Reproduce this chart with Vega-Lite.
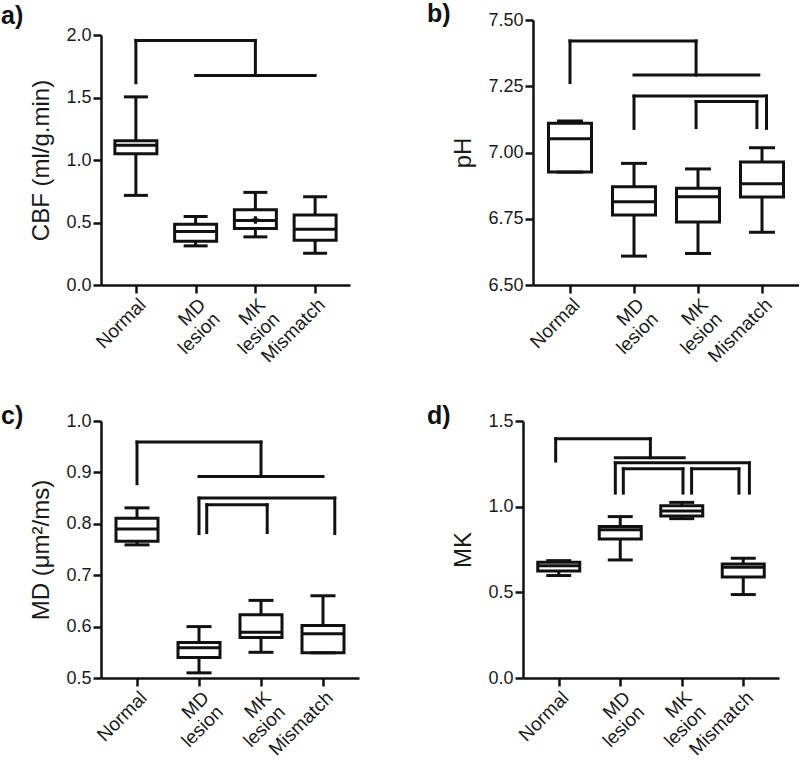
{
  "$schema": "https://vega.github.io/schema/vega-lite/v6.json",
  "padding": {"left": 0, "top": 2, "right": 0, "bottom": 0},
  "background": "white",
  "config": {
    "view": {"stroke": null},
    "axis": {
      "domainColor": "#111", "domainWidth": 2.5, "tickColor": "#111", "tickWidth": 2.5, "tickSize": 8,
      "labelFont": "Liberation Sans", "labelFontSize": 18, "labelColor": "#1a1a1a",
      "titleFont": "Liberation Sans", "titleFontSize": 24, "titleFontWeight": "normal", "titleColor": "#1a1a1a",
      "grid": false, "labelPadding": 2, "titlePadding": 12
    },
    "axisX": {"labelFontSize": 19},
    "tick": {"opacity": 1},
    "title": {"font": "Liberation Sans", "fontSize": 25, "fontWeight": "bold", "anchor": "start", "frame": "bounds", "color": "#111"}
  },
  "spacing": 38,
  "vconcat": [
    {
      "spacing": 76,
      "hconcat": [
        {
          "width": 249, "height": 265,
          "title": {"text": "a)", "offset": -9, "dx": -29},
          "layer": [
            {
              "data": {"values": [
                {"group": "Normal", "g": 1, "lo": 0.717, "q1": 1.05, "med": 1.118, "q3": 1.155, "hi": 1.505},
                {"group": "MD lesion", "g": 2, "lo": 0.313, "q1": 0.35, "med": 0.428, "q3": 0.487, "hi": 0.548},
                {"group": "MK lesion", "g": 3, "lo": 0.385, "q1": 0.452, "med": 0.516, "q3": 0.602, "hi": 0.741, "mean": 0.52},
                {"group": "Mismatch", "g": 4, "lo": 0.254, "q1": 0.358, "med": 0.447, "q3": 0.561, "hi": 0.706}
              ]},
              "encoding": {
                "x": {"field": "g", "type": "quantitative", "title": null, "scale": {"domain": [0.5, 4.5], "nice": false, "zero": false},
                  "axis": {"values": [1, 2, 3, 4], "labelAngle": -45, "labelAlign": "right", "labelBaseline": "top", "labelLineHeight": 20, "labelOverlap": false,
                    "labelExpr": "datum.value == 1 ? 'Normal' : datum.value == 2 ? ['MD', 'lesion'] : datum.value == 3 ? ['MK', 'lesion'] : 'Mismatch'"}}
              },
              "layer": [
                {"mark": {"type": "rule", "strokeWidth": 3, "color": "#111"},
                 "encoding": {"y": {"field": "lo", "type": "quantitative", "title": "CBF (ml/g.min)", "scale": {"domain": [0, 2], "range": [265, 15], "nice": false, "zero": false},
                   "axis": {"values": [0, 0.5, 1, 1.5, 2], "format": ".1f"}}, "y2": {"field": "hi"}}},
                {"mark": {"type": "bar", "size": 42, "fill": "white", "stroke": "#111", "strokeWidth": 3},
                 "encoding": {"y": {"field": "q1", "type": "quantitative", "title": "CBF (ml/g.min)"}, "y2": {"field": "q3"}}},
                {"mark": {"type": "tick", "orient": "horizontal", "size": 42, "thickness": 3, "color": "#111"},
                 "encoding": {"y": {"field": "med", "type": "quantitative", "title": "CBF (ml/g.min)"}}},
                {"mark": {"type": "tick", "orient": "horizontal", "size": 24, "thickness": 3, "color": "#111"},
                 "encoding": {"y": {"field": "lo", "type": "quantitative", "title": "CBF (ml/g.min)"}}},
                {"mark": {"type": "tick", "orient": "horizontal", "size": 24, "thickness": 3, "color": "#111"},
                 "encoding": {"y": {"field": "hi", "type": "quantitative", "title": "CBF (ml/g.min)"}}},
                {"mark": {"type": "point", "shape": "cross", "size": 60, "filled": true, "color": "#111", "opacity": 1},
                 "encoding": {"y": {"field": "mean", "type": "quantitative", "title": "CBF (ml/g.min)"}}}
              ]
            },
            {
              "data": {"values": [
                {"x1": 1, "x2": 1, "y1": 1.618, "y2": 1.957},
                {"x1": 1, "x2": 3, "y1": 1.957, "y2": 1.957},
                {"x1": 3, "x2": 3, "y1": 1.957, "y2": 1.676},
                {"x1": 2, "x2": 4, "y1": 1.676, "y2": 1.676}
              ]},
              "mark": {"type": "rule", "strokeWidth": 3, "color": "#111", "strokeCap": "square"},
              "encoding": {
                "x": {"field": "x1", "type": "quantitative", "title": null}, "x2": {"field": "x2"},
                "y": {"field": "y1", "type": "quantitative", "title": "CBF (ml/g.min)"}, "y2": {"field": "y2"}
              }
            }
          ]
        },
        {
          "width": 266, "height": 265,
          "title": {"text": "b)", "offset": -16, "dx": -25},
          "layer": [
            {
              "data": {"values": [
                {"group": "Normal", "g": 1, "lo": 6.926, "q1": 6.926, "med": 7.052, "q3": 7.11, "hi": 7.119},
                {"group": "MD lesion", "g": 2, "lo": 6.609, "q1": 6.764, "med": 6.814, "q3": 6.871, "hi": 6.959},
                {"group": "MK lesion", "g": 3, "lo": 6.619, "q1": 6.738, "med": 6.833, "q3": 6.865, "hi": 6.938},
                {"group": "Mismatch", "g": 4, "lo": 6.699, "q1": 6.832, "med": 6.882, "q3": 6.964, "hi": 7.018}
              ]},
              "encoding": {
                "x": {"field": "g", "type": "quantitative", "title": null, "scale": {"domain": [0.5, 4.5], "nice": false, "zero": false},
                  "axis": {"values": [1, 2, 3, 4], "labelAngle": -45, "labelAlign": "right", "labelBaseline": "top", "labelLineHeight": 20, "labelOverlap": false,
                    "labelExpr": "datum.value == 1 ? 'Normal' : datum.value == 2 ? ['MD', 'lesion'] : datum.value == 3 ? ['MK', 'lesion'] : 'Mismatch'"}}
              },
              "layer": [
                {"mark": {"type": "rule", "strokeWidth": 3, "color": "#111"},
                 "encoding": {"y": {"field": "lo", "type": "quantitative", "title": "pH", "scale": {"domain": [6.5, 7.5], "nice": false, "zero": false},
                   "axis": {"values": [6.5, 6.75, 7, 7.25, 7.5], "format": ".2f"}}, "y2": {"field": "hi"}}},
                {"mark": {"type": "bar", "size": 43, "fill": "white", "stroke": "#111", "strokeWidth": 3},
                 "encoding": {"y": {"field": "q1", "type": "quantitative", "title": "pH"}, "y2": {"field": "q3"}}},
                {"mark": {"type": "tick", "orient": "horizontal", "size": 43, "thickness": 3, "color": "#111"},
                 "encoding": {"y": {"field": "med", "type": "quantitative", "title": "pH"}}},
                {"mark": {"type": "tick", "orient": "horizontal", "size": 26, "thickness": 3, "color": "#111"},
                 "encoding": {"y": {"field": "lo", "type": "quantitative", "title": "pH"}}},
                {"mark": {"type": "tick", "orient": "horizontal", "size": 26, "thickness": 3, "color": "#111"},
                 "encoding": {"y": {"field": "hi", "type": "quantitative", "title": "pH"}}}
              ]
            },
            {
              "data": {"values": [
                {"x1": 1, "x2": 1, "y1": 7.264, "y2": 7.421},
                {"x1": 1, "x2": 2.97, "y1": 7.421, "y2": 7.421},
                {"x1": 2.97, "x2": 2.97, "y1": 7.421, "y2": 7.292},
                {"x1": 2, "x2": 3.95, "y1": 7.292, "y2": 7.292},
                {"x1": 2, "x2": 2, "y1": 7.091, "y2": 7.213},
                {"x1": 2, "x2": 4.07, "y1": 7.213, "y2": 7.213},
                {"x1": 4.07, "x2": 4.07, "y1": 7.213, "y2": 7.091},
                {"x1": 2.97, "x2": 2.97, "y1": 7.094, "y2": 7.192},
                {"x1": 2.97, "x2": 3.92, "y1": 7.192, "y2": 7.192},
                {"x1": 3.92, "x2": 3.92, "y1": 7.192, "y2": 7.094}
              ]},
              "mark": {"type": "rule", "strokeWidth": 3, "color": "#111", "strokeCap": "square"},
              "encoding": {
                "x": {"field": "x1", "type": "quantitative", "title": null}, "x2": {"field": "x2"},
                "y": {"field": "y1", "type": "quantitative", "title": "pH"}, "y2": {"field": "y2"}
              }
            }
          ]
        }
      ]
    },
    {
      "spacing": 67,
      "hconcat": [
        {
          "width": 258, "height": 257,
          "title": {"text": "c)", "offset": -17, "dx": -29},
          "layer": [
            {
              "data": {"values": [
                {"group": "Normal", "g": 1, "lo": 0.759, "q1": 0.766, "med": 0.79, "q3": 0.811, "hi": 0.831},
                {"group": "MD lesion", "g": 2, "lo": 0.51, "q1": 0.54, "med": 0.559, "q3": 0.569, "hi": 0.6},
                {"group": "MK lesion", "g": 3, "lo": 0.55, "q1": 0.579, "med": 0.589, "q3": 0.623, "hi": 0.651},
                {"group": "Mismatch", "g": 4, "lo": 0.549, "q1": 0.549, "med": 0.586, "q3": 0.602, "hi": 0.66}
              ]},
              "encoding": {
                "x": {"field": "g", "type": "quantitative", "title": null, "scale": {"domain": [0.5, 4.5], "nice": false, "zero": false},
                  "axis": {"values": [1, 2, 3, 4], "labelAngle": -45, "labelAlign": "right", "labelBaseline": "top", "labelLineHeight": 20, "labelOverlap": false,
                    "labelExpr": "datum.value == 1 ? 'Normal' : datum.value == 2 ? ['MD', 'lesion'] : datum.value == 3 ? ['MK', 'lesion'] : 'Mismatch'"}}
              },
              "layer": [
                {"mark": {"type": "rule", "strokeWidth": 3, "color": "#111"},
                 "encoding": {"y": {"field": "lo", "type": "quantitative", "title": "MD (μm²/ms)", "scale": {"domain": [0.5, 1.0], "nice": false, "zero": false},
                   "axis": {"values": [0.5, 0.6, 0.7, 0.8, 0.9, 1.0], "format": ".1f"}}, "y2": {"field": "hi"}}},
                {"mark": {"type": "bar", "size": 42, "fill": "white", "stroke": "#111", "strokeWidth": 3},
                 "encoding": {"y": {"field": "q1", "type": "quantitative", "title": "MD (μm²/ms)"}, "y2": {"field": "q3"}}},
                {"mark": {"type": "tick", "orient": "horizontal", "size": 42, "thickness": 3, "color": "#111"},
                 "encoding": {"y": {"field": "med", "type": "quantitative", "title": "MD (μm²/ms)"}}},
                {"mark": {"type": "tick", "orient": "horizontal", "size": 25, "thickness": 3, "color": "#111"},
                 "encoding": {"y": {"field": "lo", "type": "quantitative", "title": "MD (μm²/ms)"}}},
                {"mark": {"type": "tick", "orient": "horizontal", "size": 25, "thickness": 3, "color": "#111"},
                 "encoding": {"y": {"field": "hi", "type": "quantitative", "title": "MD (μm²/ms)"}}}
              ]
            },
            {
              "data": {"values": [
                {"x1": 1, "x2": 1, "y1": 0.878, "y2": 0.959},
                {"x1": 1, "x2": 3, "y1": 0.959, "y2": 0.959},
                {"x1": 3, "x2": 3, "y1": 0.959, "y2": 0.892},
                {"x1": 2, "x2": 4, "y1": 0.892, "y2": 0.892},
                {"x1": 2, "x2": 2, "y1": 0.781, "y2": 0.85},
                {"x1": 2, "x2": 4.19, "y1": 0.85, "y2": 0.85},
                {"x1": 4.19, "x2": 4.19, "y1": 0.85, "y2": 0.781},
                {"x1": 2.125, "x2": 2.125, "y1": 0.783, "y2": 0.837},
                {"x1": 2.125, "x2": 3.1, "y1": 0.837, "y2": 0.837},
                {"x1": 3.1, "x2": 3.1, "y1": 0.837, "y2": 0.783}
              ]},
              "mark": {"type": "rule", "strokeWidth": 3, "color": "#111", "strokeCap": "square"},
              "encoding": {
                "x": {"field": "x1", "type": "quantitative", "title": null}, "x2": {"field": "x2"},
                "y": {"field": "y1", "type": "quantitative", "title": "MD (μm²/ms)"}, "y2": {"field": "y2"}
              }
            }
          ]
        },
        {
          "width": 256, "height": 257,
          "title": {"text": "d)", "offset": -17, "dx": -25},
          "layer": [
            {
              "data": {"values": [
                {"group": "Normal", "g": 1, "lo": 0.598, "q1": 0.625, "med": 0.655, "q3": 0.675, "hi": 0.685},
                {"group": "MD lesion", "g": 2, "lo": 0.689, "q1": 0.812, "med": 0.866, "q3": 0.884, "hi": 0.942},
                {"group": "MK lesion", "g": 3, "lo": 0.93, "q1": 0.945, "med": 0.975, "q3": 1.005, "hi": 1.025},
                {"group": "Mismatch", "g": 4, "lo": 0.487, "q1": 0.589, "med": 0.647, "q3": 0.666, "hi": 0.699}
              ]},
              "encoding": {
                "x": {"field": "g", "type": "quantitative", "title": null, "scale": {"domain": [0.5, 4.5], "nice": false, "zero": false},
                  "axis": {"values": [1, 2, 3, 4], "labelAngle": -45, "labelAlign": "right", "labelBaseline": "top", "labelLineHeight": 20, "labelOverlap": false,
                    "labelExpr": "datum.value == 1 ? 'Normal' : datum.value == 2 ? ['MD', 'lesion'] : datum.value == 3 ? ['MK', 'lesion'] : 'Mismatch'"}}
              },
              "layer": [
                {"mark": {"type": "rule", "strokeWidth": 3, "color": "#111"},
                 "encoding": {"y": {"field": "lo", "type": "quantitative", "title": "MK", "scale": {"domain": [0, 1.5], "nice": false, "zero": false},
                   "axis": {"values": [0, 0.5, 1, 1.5], "format": ".1f"}}, "y2": {"field": "hi"}}},
                {"mark": {"type": "bar", "size": 42, "fill": "white", "stroke": "#111", "strokeWidth": 3},
                 "encoding": {"y": {"field": "q1", "type": "quantitative", "title": "MK"}, "y2": {"field": "q3"}}},
                {"mark": {"type": "tick", "orient": "horizontal", "size": 42, "thickness": 3, "color": "#111"},
                 "encoding": {"y": {"field": "med", "type": "quantitative", "title": "MK"}}},
                {"mark": {"type": "tick", "orient": "horizontal", "size": 25, "thickness": 3, "color": "#111"},
                 "encoding": {"y": {"field": "lo", "type": "quantitative", "title": "MK"}}},
                {"mark": {"type": "tick", "orient": "horizontal", "size": 25, "thickness": 3, "color": "#111"},
                 "encoding": {"y": {"field": "hi", "type": "quantitative", "title": "MK"}}}
              ]
            },
            {
              "data": {"values": [
                {"x1": 0.95, "x2": 0.95, "y1": 1.266, "y2": 1.397},
                {"x1": 0.95, "x2": 2.49, "y1": 1.397, "y2": 1.397},
                {"x1": 2.49, "x2": 2.49, "y1": 1.397, "y2": 1.286},
                {"x1": 1.92, "x2": 3.04, "y1": 1.286, "y2": 1.286},
                {"x1": 1.92, "x2": 1.92, "y1": 1.079, "y2": 1.256},
                {"x1": 1.92, "x2": 4.1, "y1": 1.256, "y2": 1.256},
                {"x1": 4.1, "x2": 4.1, "y1": 1.256, "y2": 1.079},
                {"x1": 2.05, "x2": 2.05, "y1": 1.079, "y2": 1.221},
                {"x1": 2.05, "x2": 3.02, "y1": 1.221, "y2": 1.221},
                {"x1": 3.02, "x2": 3.02, "y1": 1.221, "y2": 1.079},
                {"x1": 3.16, "x2": 3.16, "y1": 1.079, "y2": 1.221},
                {"x1": 3.16, "x2": 3.93, "y1": 1.221, "y2": 1.221},
                {"x1": 3.93, "x2": 3.93, "y1": 1.221, "y2": 1.079}
              ]},
              "mark": {"type": "rule", "strokeWidth": 3, "color": "#111", "strokeCap": "square"},
              "encoding": {
                "x": {"field": "x1", "type": "quantitative", "title": null}, "x2": {"field": "x2"},
                "y": {"field": "y1", "type": "quantitative", "title": "MK"}, "y2": {"field": "y2"}
              }
            }
          ]
        }
      ]
    }
  ]
}
